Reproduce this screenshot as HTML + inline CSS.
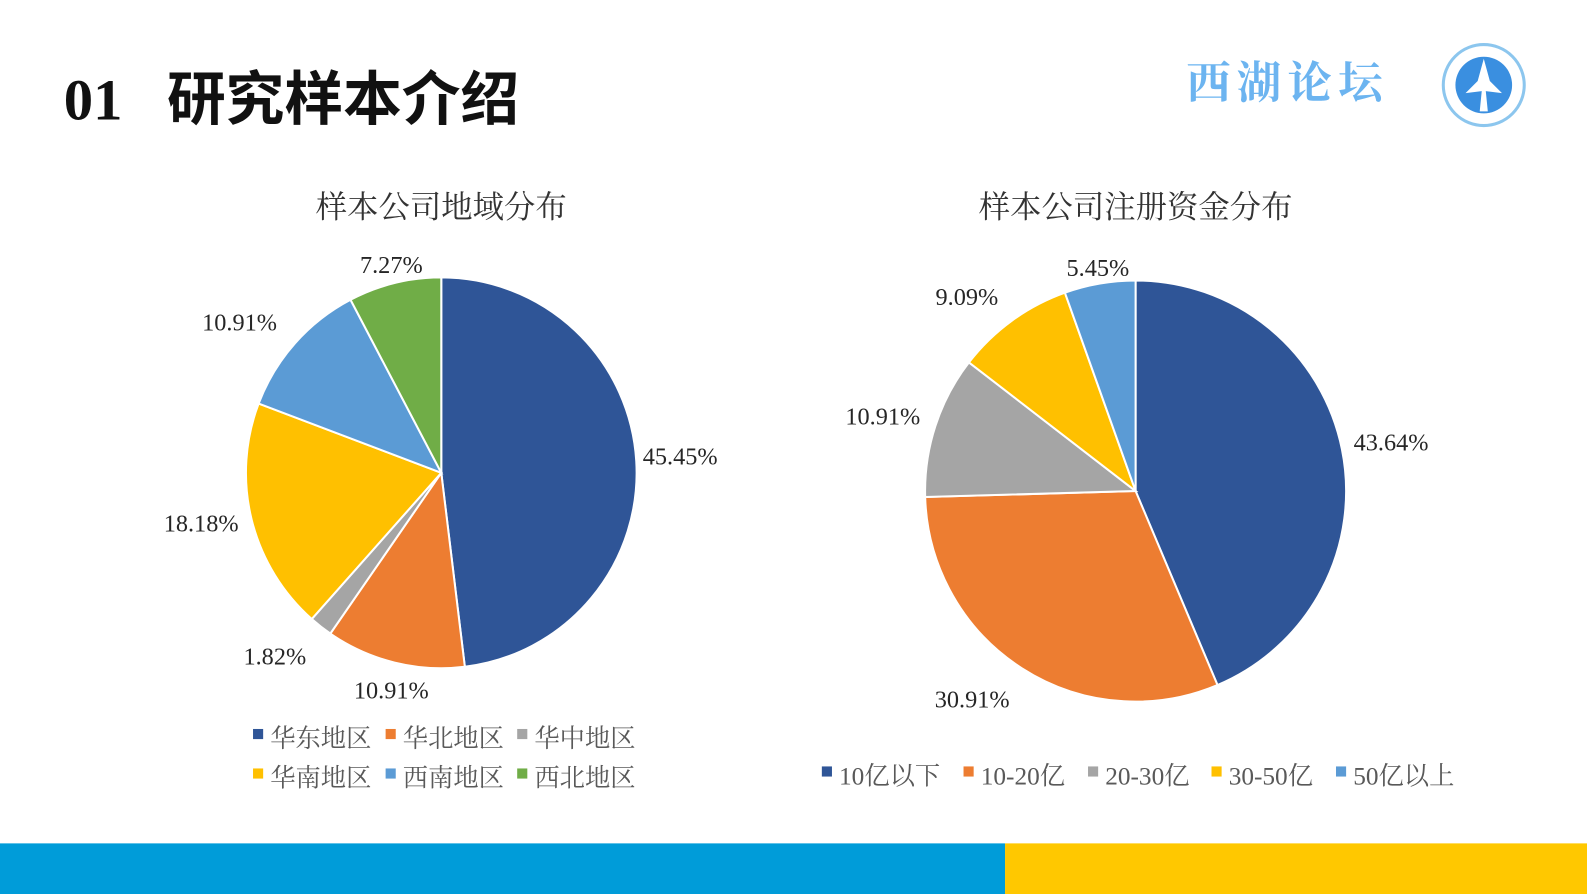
<!DOCTYPE html>
<html><head><meta charset="utf-8"><style>
html,body{margin:0;padding:0;background:#fff;overflow:hidden}
svg{display:block}
text{font-family:"Liberation Serif","Noto Serif CJK SC",serif;fill:#333}
</style></head><body>
<svg id="s" width="1587" height="894" viewBox="0 0 1568 883" preserveAspectRatio="none">
<text x="63" y="118" style="font-size:58px;font-weight:bold;fill:#111">01</text>
<text x="165" y="118" style="font-size:58px;font-weight:bold;fill:#111;font-family:'Noto Sans CJK SC',sans-serif">研究样本介绍</text>
<text x="1172" y="97" style="font-size:44px;font-weight:bold;fill:#6cb4f0;letter-spacing:6px;font-family:'Noto Serif CJK SC',serif">西湖论坛</text>
<g>
<circle cx="1466" cy="84" r="40" fill="#fff" stroke="#8cc6ee" stroke-width="3"/>
<circle cx="1466" cy="84" r="28" fill="#3a8fe0"/>
<path d="M1466 58 L1472 80 L1484 92 L1468 90 L1470 110 L1462 110 L1464 90 L1448 92 L1460 80 Z" fill="#fff"/>
</g>
<text x="436" y="215" text-anchor="middle" style="font-size:31px;fill:#333">样本公司地域分布</text>
<text x="1122" y="215" text-anchor="middle" style="font-size:31px;fill:#333">样本公司注册资金分布</text>
<g id="pie1"></g><g id="pie2"></g>
<g id="leg1"></g><g id="leg2"></g>
<rect x="0" y="833" width="993" height="50" fill="#009cd9"/>
<rect x="993" y="833" width="575" height="50" fill="#ffc800"/>
</svg>
<script>
const regions = ["华东地区","华北地区","华中地区","华南地区","西南地区","西北地区"];
const regionValues = [45.45,10.91,1.82,18.18,10.91,7.27];
const capitals = ["10亿以下","10-20亿","20-30亿","30-50亿","50亿以上"];
const capitalValues = [43.64,30.91,10.91,9.09,5.45];
const colors1 = ["#2f5597","#ed7d31","#a5a5a5","#ffc000","#5b9bd5","#70ad47"];
const colors2 = ["#2f5597","#ed7d31","#a5a5a5","#ffc000","#5b9bd5"];
const NS="http://www.w3.org/2000/svg";
function mk(t,a,p){const e=document.createElementNS(NS,t);for(const k in a)e.setAttribute(k,a[k]);p.appendChild(e);return e;}
function pie(g,cx,cy,r,vals,cats,cols,nm){
  const tot=vals.reduce((a,b)=>a+b,0);let a0=0;
  vals.forEach((v,i)=>{
    const a1=a0+v/tot*2*Math.PI;
    const x0=cx+r*Math.sin(a0),y0=cy-r*Math.cos(a0),x1=cx+r*Math.sin(a1),y1=cy-r*Math.cos(a1);
    const p=mk('path',{d:`M${cx} ${cy}L${x0} ${y0}A${r} ${r} 0 ${a1-a0>Math.PI?1:0} 1 ${x1} ${y1}Z`,fill:cols[i],stroke:'#fff','stroke-width':2},g);
    
    
    const m=(a0+a1)/2,s=Math.sin(m),c=Math.cos(m);
    const rr=r+4+40*Math.abs(s*c);
    const lx=cx+rr*s,ly=cy-rr*c;
    const off=c>0?4-c*1:4-c*19;
    const t=mk('text',{x:lx,y:ly+off,'text-anchor':Math.abs(s)<0.35?'middle':(s>0?'start':'end'),style:'font-size:24px;fill:#262626'},g);
    t.textContent=v.toFixed(2)+'%';
    
    
    a0=a1;
  });
}
function legend(g,items,cols,xs,ys,nm){
  items.forEach((c,i)=>{
    const r=mk('rect',{x:xs[i],y:ys[i]-9,width:10,height:10,fill:cols[i]},g);
    
    
    const t=mk('text',{x:xs[i]+17,y:ys[i]+9,style:'font-size:25px;fill:#595959'},g);
    t.textContent=c;
    
    
  });
}
pie(document.getElementById('pie1'),436,467,193,regionValues,regions,colors1,'region-pie');
pie(document.getElementById('pie2'),1122,485,208,capitalValues,capitals,colors2,'capital-pie');
legend(document.getElementById('leg1'),regions,colors1,[250,381,511,250,381,511],[729,729,729,768,768,768],'region-legend');
legend(document.getElementById('leg2'),capitals,colors2,[812,952,1075,1197,1320],[766,766,766,766,766],'capital-legend');
</script>
</body></html>
